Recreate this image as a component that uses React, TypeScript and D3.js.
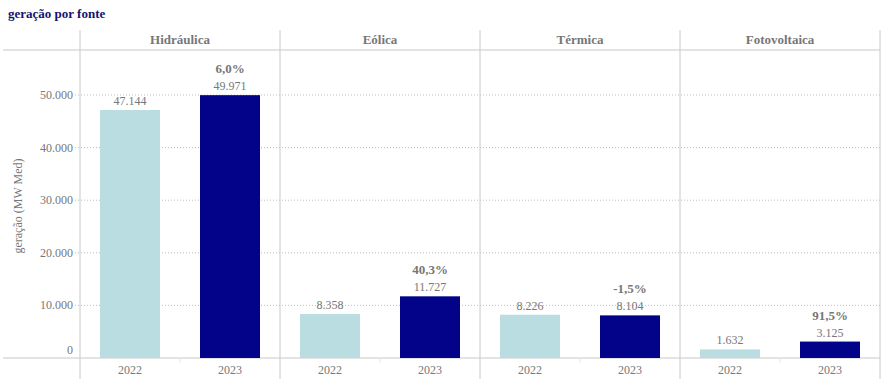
import * as d3 from "d3"

const fontes = ["Hidráulica", "Eólica", "Térmica", "Fotovoltaica"]
const anos = ["2022", "2023"]
const valores2022 = [47144, 8358, 8226, 1632]
const valores2023 = [49971, 11727, 8104, 3125]
const variacao = ["6,0%", "40,3%", "-1,5%", "91,5%"]
const yTicks = [0, 10000, 20000, 30000, 40000, 50000]

const W = 887
const H = 385
const left = 80
const right = 880
const top = 50
const bottom = 358
const headerTop = 30

const corAno = ["#b9dde0", "#03038a"]
const cinza = "#777"
const linha = "#c8c8c8"
const font = "Liberation Serif, DejaVu Serif, serif"

const fmt = (v: number) => d3.format(",")(v).replace(/,/g, ".")

export default function App() {
  const x = d3.scaleBand<string>().domain(fontes).range([left, right])
  const inner = d3
    .scaleBand<string>()
    .domain(anos)
    .range([0, x.bandwidth()])
    .paddingInner(0.4)
    .paddingOuter(0.2)
  const y = d3.scaleLinear().domain([0, 50000]).range([bottom, 95])

  const series = [valores2022, valores2023]

  return (
    <svg
      width={W}
      height={H}
      fontFamily={font}
      style={{ position: "absolute", left: 0, top: 0 }}
    >
      <text x={8} y={18} fontSize={13} fontWeight="bold" fill="#14146e">
        geração por fonte
      </text>

      {/* grid */}
      {yTicks.map((t) => (
        <g key={t}>
          {t > 0 && (
            <line
              x1={75}
              x2={right}
              y1={y(t)}
              y2={y(t)}
              stroke="#bdbdbd"
              strokeDasharray="1,2"
            />
          )}
          <text
            x={73}
            y={t > 0 ? y(t) + 4 : y(t) - 4}
            textAnchor="end"
            fontSize={12}
            fill={cinza}
          >
            {fmt(t)}
          </text>
        </g>
      ))}

      <text
        transform={`translate(22,${(top + bottom) / 2 + 2}) rotate(-90)`}
        textAnchor="middle"
        fontSize={12}
        fill={cinza}
      >
        geração (MW Med)
      </text>

      {/* header and frame lines */}
      <line x1={3} x2={right} y1={top} y2={top} stroke={linha} />
      <line x1={3} x2={right} y1={bottom} y2={bottom} stroke={linha} />
      {fontes.map((f) => (
        <line
          key={f}
          x1={x(f)!}
          x2={x(f)!}
          y1={headerTop}
          y2={379}
          stroke={linha}
        />
      ))}
      <line x1={right} x2={right} y1={headerTop} y2={379} stroke={linha} />

      {fontes.map((f, i) => {
        const x0 = x(f)!
        const mid = x0 + x.bandwidth() / 2
        return (
          <g key={f}>
            <text
              x={mid}
              y={44}
              textAnchor="middle"
              fontSize={13}
              fontWeight="bold"
              fill={cinza}
            >
              {f}
            </text>
            <line
              x1={mid}
              x2={mid}
              y1={bottom}
              y2={bottom + 5}
              stroke="#e6e6e6"
            />
            {anos.map((a, j) => {
              const v = series[j][i]
              const bx = x0 + inner(a)!
              const cx = bx + inner.bandwidth() / 2
              return (
                <g key={a}>
                  <rect
                    x={bx}
                    y={y(v)}
                    width={inner.bandwidth()}
                    height={bottom - y(v)}
                    fill={corAno[j]}
                  />
                  <text
                    x={cx}
                    y={y(v) - 5}
                    textAnchor="middle"
                    fontSize={12}
                    fill={cinza}
                  >
                    {fmt(v)}
                  </text>
                  {j === 1 && (
                    <text
                      x={cx}
                      y={y(v) - 22}
                      textAnchor="middle"
                      fontSize={13}
                      fontWeight="bold"
                      fill={cinza}
                    >
                      {variacao[i]}
                    </text>
                  )}
                  <text
                    x={cx}
                    y={374}
                    textAnchor="middle"
                    fontSize={12}
                    fill={cinza}
                  >
                    {a}
                  </text>
                </g>
              )
            })}
          </g>
        )
      })}
    </svg>
  )
}
